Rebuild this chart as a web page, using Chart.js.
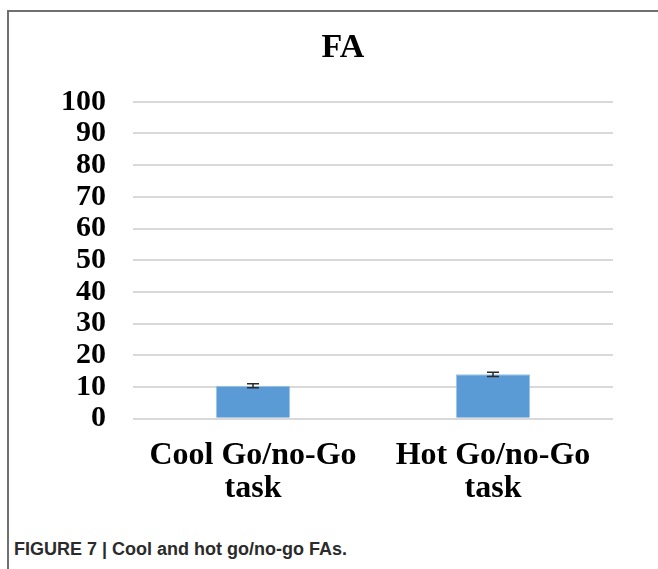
<!DOCTYPE html>
<html>
<head>
<meta charset="utf-8">
<script src="https://cdn.jsdelivr.net/npm/chart.js@4"></script>
<style>
  html, body { margin: 0; padding: 0; background: #fff; overflow: hidden; }
  body { width: 658px; height: 569px; position: relative; }
  #frame { position: absolute; left: 7px; top: 10px; width: 700px; height: 600px;
           border-left: 2px solid #707070; border-top: 2px solid #707070; }
  #wrap { position: absolute; left: 9px; top: 15px; width: 670px; height: 511px; }
  #caption { position: absolute; left: 14px; top: 539px; line-height: 21px;
             font: bold 18px "Liberation Sans", Arial, sans-serif; color: #2b2b2b; }
</style>
</head>
<body>
<div id="frame"></div>
<div id="wrap"><canvas id="chart"></canvas></div>
<div id="caption">FIGURE 7 | Cool and hot go/no-go FAs.</div>
<script>
const categories = [["Cool Go/no-Go", "task"], ["Hot Go/no-Go", "task"]];
const faValues = [10.4, 14.0];
const faErrors = [0.6, 0.7];
const yTicks = [0, 10, 20, 30, 40, 50, 60, 70, 80, 90, 100];

const SERIF = "'Liberation Serif', 'Times New Roman', serif";

// error bar whiskers drawn through the y scale
const errorBars = {
  id: "errorBars",
  afterDatasetsDraw(chart) {
    const ctx = chart.ctx;
    const y = chart.scales.y;
    const meta = chart.getDatasetMeta(0);
    ctx.save();
    ctx.strokeStyle = "#2a2a2a";
    ctx.lineWidth = 1.5;
    meta.data.forEach((bar, i) => {
      const top = y.getPixelForValue(faValues[i] + faErrors[i]);
      const bot = y.getPixelForValue(faValues[i] - faErrors[i]);
      const half = 6;
      ctx.beginPath();
      ctx.moveTo(bar.x, top); ctx.lineTo(bar.x, bot);
      ctx.moveTo(bar.x - half, top); ctx.lineTo(bar.x + half, top);
      ctx.moveTo(bar.x - half, bot); ctx.lineTo(bar.x + half, bot);
      ctx.stroke();
    });
    ctx.restore();
  },
};

new Chart(document.getElementById("chart"), {
  type: "bar",
  data: {
    labels: categories,
    datasets: [{
      data: faValues,
      backgroundColor: "#5b9bd5",
      borderColor: "#9cc3e8",
      borderWidth: 1,
      categoryPercentage: 1,
      barPercentage: 0.31,
    }],
  },
  options: {
    responsive: true,
    maintainAspectRatio: false,
    animation: false,
    layout: { padding: { left: 51, right: 53, top: 0, bottom: 0 } },
    plugins: {
      legend: { display: false },
      tooltip: { enabled: false },
      title: {
        display: true,
        text: "FA",
        color: "#000",
        font: { family: SERIF, size: 34, weight: "bold" },
        padding: { top: 13, bottom: 33 },
      },
    },
    scales: {
      x: {
        grid: { display: false, drawTicks: false },
        border: { display: false },
        ticks: {
          color: "#000",
          font: { family: SERIF, size: 32, weight: "bold", lineHeight: 1.02 },
          padding: 21,
          maxRotation: 0,
          autoSkip: false,
        },
      },
      y: {
        min: 0,
        max: 100,
        afterBuildTicks(axis) { axis.ticks = yTicks.map(v => ({ value: v })); },
        afterFit(axis) { axis.width = 73; },
        grid: { color: "#d9d9d9", lineWidth: 2, drawTicks: false },
        border: { display: false },
        ticks: {
          color: "#000",
          font: { family: SERIF, size: 30, weight: "bold" },
          padding: 27,
          autoSkip: false,
        },
      },
      // empty right-hand spacer so the title centres like the original
      spacer: {
        type: "linear",
        position: "right",
        display: true,
        afterFit(axis) { axis.width = 13; },
        grid: { display: false, drawTicks: false },
        border: { display: false },
        ticks: { display: false },
      },
    },
  },
  plugins: [errorBars],
});
</script>
</body>
</html>
